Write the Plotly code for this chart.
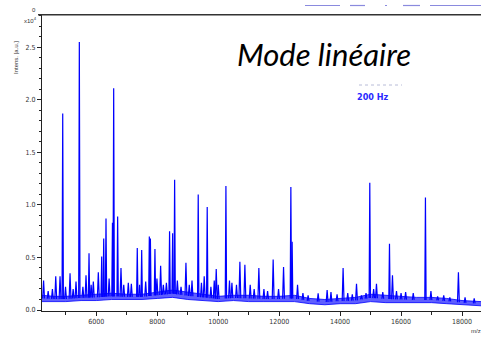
import numpy as np
import plotly.graph_objects as go

# ---- data ----
peak_mz = [4270, 4420, 4560, 4669, 4810, 4898, 4990, 5138, 5240, 5334, 5443, 5560, 5662, 5761,
           5830, 5902, 6066, 6177, 6243, 6318, 6420, 6530, 6570, 6700, 6810, 6900, 7050, 7150,
           7344, 7420, 7489, 7620, 7740, 7775, 7924, 7990, 8111, 8200, 8300, 8404, 8505, 8570,
           8660, 8780, 8941, 9050, 9140, 9344, 9450, 9541, 9639, 9760, 9870, 9935, 10000, 10253,
           10370, 10450, 10600, 10711, 10875, 11050, 11180, 11334, 11500, 11620, 11803, 11980,
           12144, 12384, 12426, 12603, 12780, 12950, 13279, 13574, 13700, 13900, 14098, 14250,
           14400, 14538, 14700, 14850, 14974, 15100, 15193, 15400, 15620, 15718, 15850, 16000,
           16150, 16400, 16800, 16980, 17200, 17400, 17600, 17882, 18100, 18400]
peak_int = [0.28, 0.18, 0.20, 0.32, 0.32, 1.87, 0.22, 0.35, 0.20, 0.27, 2.55, 0.22, 0.33, 0.54,
            0.24, 0.27, 0.36, 0.51, 0.68, 0.87, 0.30, 0.83, 2.11, 0.89, 0.40, 0.24, 0.26, 0.25,
            0.59, 0.24, 0.57, 0.27, 0.70, 0.68, 0.58, 0.30, 0.42, 0.24, 0.26, 0.75, 0.73, 1.24,
            0.28, 0.22, 0.45, 0.24, 0.28, 1.10, 0.26, 0.32, 0.98, 0.22, 0.28, 0.39, 0.24, 1.18,
            0.28, 0.26, 0.24, 0.46, 0.43, 0.24, 0.20, 0.40, 0.20, 0.18, 0.48, 0.20,
            0.41, 1.17, 0.65, 0.24, 0.16, 0.14, 0.16, 0.19, 0.17, 0.15, 0.40, 0.16,
            0.15, 0.25, 0.14, 0.16, 1.21, 0.20, 0.25, 0.17, 0.63, 0.33, 0.18, 0.16,
            0.17, 0.16, 1.07, 0.18, 0.13, 0.14, 0.12, 0.36, 0.12, 0.11]

base_mz = [4218, 4600, 5000, 5500, 6000, 6500, 7000, 7500, 8000, 8500, 9000, 9500, 10000,
           10500, 11000, 11500, 12000, 12500, 13000, 13500, 14000, 14500, 15000, 15500,
           16000, 16500, 17000, 17500, 18000, 18623]
base_lo = [0.08, 0.08, 0.08, 0.09, 0.09, 0.10, 0.10, 0.10, 0.11, 0.12, 0.10, 0.09, 0.08,
           0.09, 0.08, 0.08, 0.08, 0.08, 0.06, 0.05, 0.06, 0.06, 0.08, 0.07,
           0.07, 0.07, 0.07, 0.06, 0.05, 0.04]
base_hi = [0.14, 0.13, 0.13, 0.14, 0.15, 0.16, 0.15, 0.15, 0.17, 0.19, 0.17, 0.15, 0.13,
           0.14, 0.14, 0.13, 0.13, 0.14, 0.11, 0.10, 0.11, 0.12, 0.15, 0.14,
           0.13, 0.12, 0.12, 0.11, 0.09, 0.08]

x_ticks = [6000, 8000, 10000, 12000, 14000, 16000, 18000]
y_ticks = [0.0, 0.5, 1.0, 1.5, 2.0, 2.5]

BLUE = "rgb(0,0,255)"
W, H = 481, 337
ML, MR, MT, MB = 42, 0, 14, 26
PW, PH = W - ML - MR, H - MT - MB


def px(x):
    return (x - ML) / PW


def py(y):
    return (H - MB - y) / PH


fig = go.Figure()
# noisy baseline band
fig.add_trace(go.Scatter(x=base_mz, y=base_lo, mode="lines",
                         line=dict(color=BLUE, width=0.8), hoverinfo="skip", showlegend=False))
fig.add_trace(go.Scatter(x=base_mz, y=base_hi, mode="lines", fill="tonexty",
                         fillcolor="rgba(40,40,255,0.75)",
                         line=dict(color=BLUE, width=0.8), hoverinfo="skip", showlegend=False))

# peaks
base_mid = np.interp(peak_mz, base_mz, (np.array(base_lo) + np.array(base_hi)) / 2)
xs, ys = [], []
for m, h, b in zip(peak_mz, peak_int, base_mid):
    w = 22 if h > 0.5 else 30
    xs += [m - w, m, m + w, None]
    ys += [b, h, b, None]
fig.add_trace(go.Scatter(x=xs, y=ys, mode="lines", line=dict(color=BLUE, width=1.2),
                         hoverinfo="skip", showlegend=False))

tickfont = dict(family="Liberation Sans Narrow, DejaVu Sans Condensed, sans-serif",
                size=7, color="#333")
fig.update_layout(
    width=W, height=H, margin=dict(l=ML, r=MR, t=MT, b=MB),
    paper_bgcolor="white", plot_bgcolor="white", showlegend=False,
    xaxis=dict(range=[4218, 18623], tickmode="array", tickvals=x_ticks,
               ticktext=[str(v) for v in x_ticks], ticks="outside", ticklen=4,
               tickcolor="#222", showline=True, linecolor="#222", linewidth=1,
               showgrid=False, zeroline=False, tickfont=tickfont,
               minor=dict(tickmode="linear", tick0=0, dtick=1000, ticks="outside",
                          ticklen=3, tickcolor="#222", showgrid=False)),
    yaxis=dict(range=[-0.0095, 2.817], tickmode="array", tickvals=y_ticks,
               ticktext=["%.1f" % v for v in y_ticks], ticks="outside", ticklen=4,
               tickcolor="#222", showline=True, linecolor="#222", linewidth=1,
               showgrid=False, zeroline=False, tickfont=tickfont,
               minor=dict(tickmode="linear", tick0=0, dtick=0.1, ticks="outside",
                          ticklen=2, tickcolor="#222", showgrid=False)),
)

# axis line of the spectrum above (cut off)
fig.add_shape(type="line", xref="paper", yref="paper", x0=px(38), x1=1, y0=py(14.7), y1=py(14.7),
              line=dict(color="#333", width=1.6))
# cut-off blue text fragments of the spectrum above
for x0, x1 in [(305, 340), (350, 365), (385, 387), (403, 420), (430, 481)]:
    fig.add_shape(type="line", xref="paper", yref="paper", x0=px(x0), x1=px(x1),
                  y0=py(5.5), y1=py(5.5), line=dict(color="rgba(60,60,200,0.6)", width=1.2))
# dotted rule over the frequency label
fig.add_shape(type="line", xref="paper", yref="paper", x0=px(359), x1=px(402), y0=py(85), y1=py(85),
              line=dict(color="#b8bcd8", width=1, dash="dot"))

ann = [
    dict(text="Mode linéaire", x=px(324), y=py(54),
         font=dict(family="Lato, Open Sans, sans-serif", size=31, color="black", style="italic")),
    dict(text="<b>200 Hz</b>", x=px(372), y=py(97),
         font=dict(family="Liberation Sans Narrow, DejaVu Sans Condensed, sans-serif", size=9,
                   color="#2a2aff")),
    dict(text="x10<sup>4</sup>", x=px(30), y=py(20),
         font=dict(family="Liberation Sans Narrow, sans-serif", size=6, color="#333")),
    dict(text="0", x=px(34), y=py(10),
         font=dict(family="Liberation Sans Narrow, sans-serif", size=6, color="#333")),
    dict(text="Intens. [a.u.]", x=px(16), y=py(58), textangle=-90,
         font=dict(family="Liberation Sans Narrow, sans-serif", size=6, color="#333")),
    dict(text="m/z", x=px(476), y=py(331),
         font=dict(family="Liberation Sans Narrow, sans-serif", size=6, color="#333")),
]
for a in ann:
    fig.add_annotation(xref="paper", yref="paper", showarrow=False,
                       xanchor="center", yanchor="middle", **a)

fig.write_html("out.html")
